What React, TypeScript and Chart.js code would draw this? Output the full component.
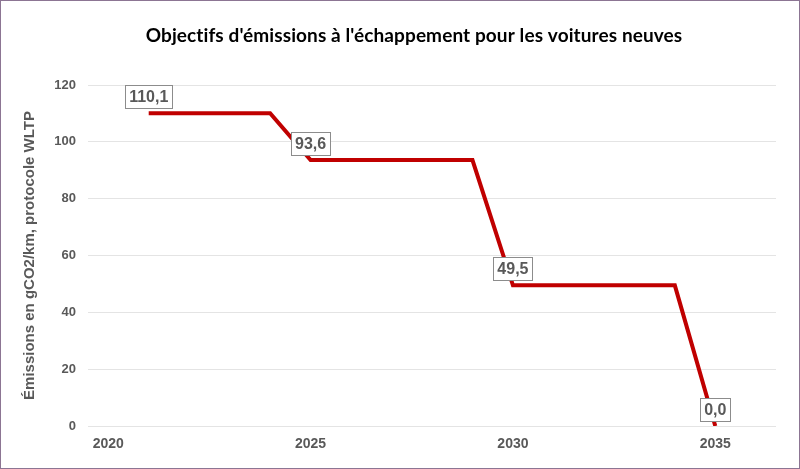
import { Chart, registerables } from "chart.js";
import { useEffect, useRef } from "react";

Chart.register(...registerables);

// années et objectifs (gCO2/km, WLTP)
const years = [2021, 2024, 2025, 2029, 2030, 2034, 2035];
const targets = [110.1, 110.1, 93.6, 93.6, 49.5, 49.5, 0];
// seuls ces points portent une étiquette
const labelled = [true, false, true, false, true, false, true];
const xTicks = [2020, 2025, 2030, 2035];

const titleText = "Objectifs d'émissions à l'échappement pour les voitures neuves";
const yTitle = "Émissions en gCO2/km, protocole WLTP";

const grey = "#595959";
const lineRed = "#C00000";
const sans = "'Liberation Sans', Arial, sans-serif";

export default function App() {
    const canvasRef = useRef<HTMLCanvasElement | null>(null);
    const chartRef = useRef<Chart | null>(null);

    useEffect(() => {
        if (!canvasRef.current) return;

        const frame = {
            id: "frame",
            beforeDraw(chart: any) {
                const { ctx, width, height } = chart;
                ctx.save();
                ctx.fillStyle = "#ffffff";
                ctx.fillRect(0, 0, width, height);
                ctx.restore();
            },
            afterDraw(chart: any) {
                const { ctx, width, height } = chart;
                ctx.save();
                // titre (centré comme dans Excel, un peu à droite du centre)
                ctx.font = "bold 19px Lato, 'Open Sans', sans-serif";
                ctx.letterSpacing = "0.1px";
                ctx.fillStyle = "#000000";
                ctx.textAlign = "center";
                ctx.textBaseline = "middle";
                ctx.fillText(titleText, 414, 36);
                ctx.letterSpacing = "0px";
                ctx.strokeStyle = "#8c7593";
                ctx.lineWidth = 1;
                ctx.strokeRect(0.5, 0.5, width - 1, height - 1);
                ctx.restore();
            },
        };

        const valueLabels = {
            id: "valueLabels",
            afterDatasetsDraw(chart: any) {
                const { ctx } = chart;
                const meta = chart.getDatasetMeta(0);
                ctx.save();
                ctx.font = "bold 16px " + sans;
                ctx.textAlign = "center";
                ctx.textBaseline = "middle";
                meta.data.forEach((pt: any, i: number) => {
                    if (!labelled[i]) return;
                    const txt = targets[i].toFixed(1).replace(".", ",");
                    const w = Math.round(ctx.measureText(txt).width + 8);
                    const h = 23;
                    const left = Math.round(pt.x - w / 2);
                    const top = Math.round(pt.y - 17 - h / 2);
                    ctx.fillStyle = "#ffffff";
                    ctx.fillRect(left, top, w, h);
                    ctx.strokeStyle = "#8c8c8c";
                    ctx.lineWidth = 1;
                    ctx.strokeRect(left + 0.5, top + 0.5, w, h);
                    ctx.fillStyle = grey;
                    ctx.fillText(txt, pt.x, top + h / 2 + 1);
                });
                ctx.restore();
            },
        };

        chartRef.current = new Chart(canvasRef.current, {
            type: "line",
            data: {
                datasets: [
                    {
                        data: years.map((y, i) => ({ x: y, y: targets[i] })),
                        borderColor: lineRed,
                        borderWidth: 4,
                        pointRadius: 0,
                        tension: 0,
                        borderJoinStyle: "miter",
                    },
                ],
            },
            options: {
                animation: false,
                responsive: false,
                layout: { padding: { top: 85, right: 24, bottom: 0, left: 0 } },
                plugins: {
                    legend: { display: false },
                    tooltip: { enabled: false },
                },
                scales: {
                    x: {
                        type: "linear",
                        min: 2019.5,
                        max: 2036.5,
                        afterBuildTicks(scale: any) {
                            scale.ticks = xTicks.map((v) => ({ value: v }));
                        },
                        afterFit(scale: any) {
                            scale.height = 43;
                        },
                        grid: { display: false, drawTicks: false },
                        border: { display: false },
                        ticks: {
                            padding: 10,
                            color: grey,
                            font: { family: sans, size: 14, weight: "bold" },
                            callback: (v: any) => String(v),
                        },
                    },
                    y: {
                        min: 0,
                        max: 120,
                        afterFit(scale: any) {
                            scale.width = 88;
                        },
                        grid: { color: "#e4e4e4", drawTicks: false },
                        border: { display: false },
                        ticks: {
                            stepSize: 20,
                            padding: 12,
                            color: grey,
                            font: { family: sans, size: 13, weight: "bold" },
                        },
                        title: {
                            display: true,
                            text: yTitle,
                            color: grey,
                            font: { family: sans, size: 15, weight: "bold" },
                            padding: { top: 21, bottom: 0 },
                        },
                    },
                },
            },
            plugins: [frame, valueLabels],
        });

        return () => {
            chartRef.current?.destroy();
            chartRef.current = null;
        };
    }, []);

    return (
        <div style={{ position: "fixed", left: 0, top: 0, width: 800, height: 469 }}>
            <canvas ref={canvasRef} width={800} height={469} style={{ width: 800, height: 469 }} />
        </div>
    );
}
